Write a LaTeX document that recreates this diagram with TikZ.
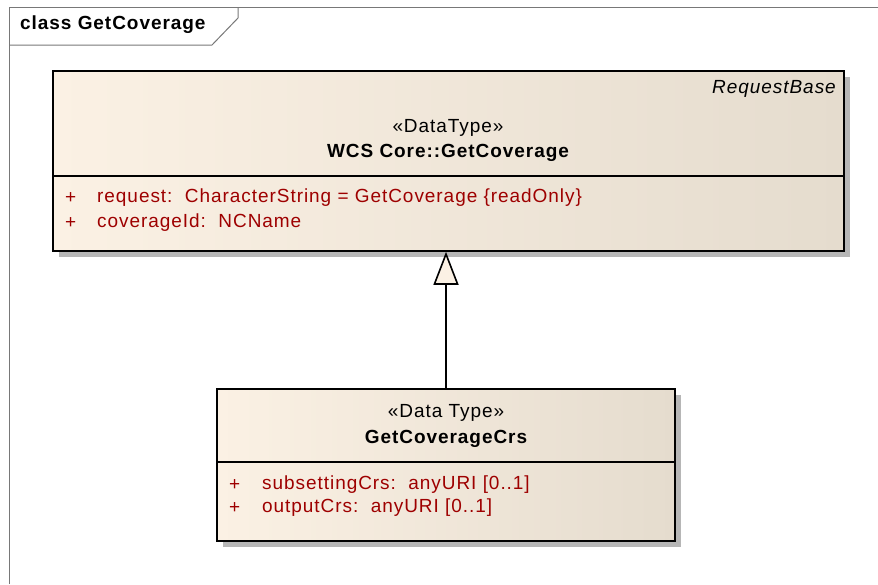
\documentclass[tikz,border=0pt]{standalone}
\usepackage{fontspec}
\setmainfont{Liberation Sans}[LetterSpace=5]
\usetikzlibrary{arrows.meta,shadows}
\definecolor{boxleft}{RGB}{251,241,228}
\definecolor{boxright}{RGB}{229,220,206}
\definecolor{attrred}{RGB}{158,0,0}
\definecolor{framegray}{RGB}{120,120,120}
\definecolor{shadowgray}{RGB}{182,182,182}
\begin{document}
\begin{tikzpicture}[x=1pt, y=-1pt,
	classbox/.style={draw, line width=1.6pt, left color=boxleft, right color=boxright, inner sep=0pt,
		drop shadow={shadow xshift=6pt, shadow yshift=-6pt, fill=shadowgray, opacity=1}},
	txt/.style={inner sep=0pt, font=\fontsize{19}{23}\selectfont},
	bold/.style={txt, font=\fontsize{19}{23}\selectfont\bfseries},
	attr/.style={txt, anchor=west, text=attrred},
	generalization/.style={line width=1.6pt, -{Triangle[length=33pt, width=25pt, fill=boxleft]}}]
	\useasboundingbox (0,0) rectangle (878,584);
	% frame and tab
	\draw[framegray, line width=1pt] (9,584) -- (9,7) -- (878,7);
	\draw[framegray, line width=1pt] (9,45) -- (212,45) -- (238,18) -- (238,7);
	\node[bold, anchor=west] (title) at (20,25) {class GetCoverage};
	% classes
	\node[classbox, minimum width=791pt, minimum height=180pt] (base) at (448.5,161) {};
	\node[classbox, minimum width=458pt, minimum height=152pt] (crs) at (446,465) {};
	\draw[line width=1.6pt] ([yshift=-106pt]base.north west) -- ([yshift=-106pt]base.north east);
	\draw[line width=1.6pt] ([yshift=-74pt]crs.north west) -- ([yshift=-74pt]crs.north east);
	% texts of base
	\node[txt, anchor=east, font=\fontsize{19}{23}\selectfont\itshape] (parent) at (836,89) {RequestBase};
	\node[txt] (basest) at (448,128) {«DataType»};
	\node[bold] (basename) at (448,153) {WCS Core::GetCoverage};
	\node[attr] (p1) at (65,198) {+};
	\node[attr] (a1) at (97,198) {request:\ \ CharacterString = GetCoverage \{readOnly\}};
	\node[attr] (p2) at (65,223) {+};
	\node[attr] (a2) at (97,223) {coverageId:\ \ NCName};
	% texts of crs
	\node[txt] (crsst) at (446,413) {«Data Type»};
	\node[bold] (crsname) at (446,439) {GetCoverageCrs};
	\node[attr] (p3) at (229,485) {+};
	\node[attr] (a3) at (262,485) {subsettingCrs:\ \ anyURI [0..1]};
	\node[attr] (p4) at (229,508) {+};
	\node[attr] (a4) at (262,508) {outputCrs:\ \ anyURI [0..1]};
	% generalization
	\draw[generalization] (crs.north) -- (crs.north |- base.south);
\end{tikzpicture}
\end{document}
